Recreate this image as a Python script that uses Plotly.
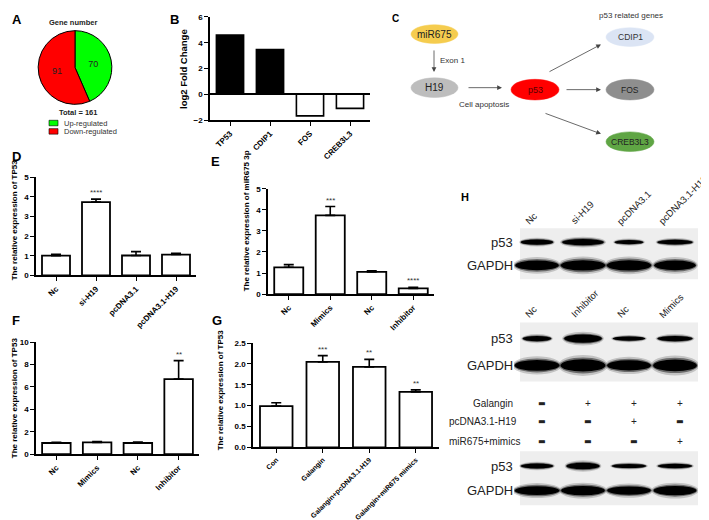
import plotly.graph_objects as go

W = 709
H = 520
FONT = "Liberation Sans"

# A: gene numbers
pie_labels = ["Up-regulated", "Down-regulated"]
pie_values = [70, 91]
pie_colors = ["#00ff00", "#ff0000"]

# B: log2 fold change of p53 related genes
fc_genes = ["TP53", "CDIP1", "FOS", "CREB3L3"]
fc_values = [4.6, 3.47, -1.67, -1.09]

# D
d_groups = ["Nc", "si-H19", "pcDNA3.1", "pcDNA3.1-H19"]
d_values = [1.0, 3.73, 1.01, 1.06]
d_errors = [0.07, 0.15, 0.2, 0.06]
d_stars = ["", "****", "", ""]

# E
e_groups = ["Nc", "Mimics", "Nc", "Inhibitor"]
e_values = [1.27, 3.74, 1.05, 0.27]
e_errors = [0.13, 0.42, 0.05, 0.05]
e_stars = ["", "***", "", "****"]

# F
f_groups = ["Nc", "Mimics", "Nc", "Inhibitor"]
f_values = [1.0, 1.05, 1.0, 6.7]
f_errors = [0.06, 0.07, 0.08, 1.65]
f_stars = ["", "", "", "**"]

# G
g_groups = ["Con", "Galangin", "Galangin+pcDNA3.1-H19", "Galangin+miR675 mimics"]
g_values = [0.99, 2.05, 1.93, 1.33]
g_errors = [0.08, 0.15, 0.18, 0.05]
g_stars = ["", "***", "**", "**"]

# H: western blots (band width as share of lane, thickness as share of row)
blot1_lanes = ["Nc", "si-H19", "pcDNA3.1", "pcDNA3.1-H19"]
blot1_p53_width = [0.70, 0.90, 0.62, 0.76]
blot1_p53_thick = [0.22, 0.27, 0.18, 0.21]
blot1_gapdh_width = [0.95, 0.97, 0.97, 0.9]
blot1_gapdh_thick = [0.42, 0.45, 0.45, 0.42]

blot2_lanes = ["Nc", "Inhibitor", "Nc", "Mimics"]
blot2_p53_width = [0.62, 0.82, 0.7, 0.76]
blot2_p53_thick = [0.2, 0.3, 0.16, 0.2]
blot2_gapdh_width = [0.97, 0.97, 0.95, 0.95]
blot2_gapdh_thick = [0.4, 0.46, 0.38, 0.44]

blot3_p53_width = [0.7, 0.72, 0.74, 0.74]
blot3_p53_thick = [0.2, 0.27, 0.17, 0.18]
blot3_gapdh_width = [0.97, 0.95, 0.95, 0.93]
blot3_gapdh_thick = [0.36, 0.38, 0.34, 0.38]

treat_rows = ["Galangin", "pcDNA3.1-H19", "miR675+mimics"]
treat_signs = [
    ["-", "+", "+", "+"],
    ["-", "-", "+", "-"],
    ["-", "-", "-", "+"],
]


def X(p):
    return p / W


def Y(p):
    return 1 - p / H


fig = go.Figure()
layout = {}


def note(text, x, y, size=8, bold=False, color="black",
         xanchor="center", yanchor="middle", angle=0):
    fig.add_annotation(
        text=text, x=X(x), y=Y(y), xref="paper", yref="paper",
        showarrow=False, textangle=angle,
        xanchor=xanchor, yanchor=yanchor,
        font=dict(family=FONT, size=size, color=color,
                  weight="bold" if bold else "normal")
    )


def arrow(x0, y0, x1, y1):
    fig.add_annotation(
        text="", x=X(x1), y=Y(y1), xref="paper", yref="paper",
        ax=x0 - x1, ay=y0 - y1, axref="pixel", ayref="pixel",
        showarrow=True, arrowhead=2, arrowsize=1.2,
        arrowwidth=0.8, arrowcolor="#444"
    )


def ellipse(cx, cy, w, h, color, text, size=9, tcolor="#222"):
    fig.add_shape(
        type="circle", xref="paper", yref="paper",
        x0=X(cx - w / 2), x1=X(cx + w / 2),
        y0=Y(cy + h / 2), y1=Y(cy - h / 2),
        fillcolor=color, line=dict(color=color, width=0.5)
    )
    note(text, cx, cy, size=size, color=tcolor)


tick_font = dict(family=FONT, size=8, color="black", weight="bold")


def bar_panel(n, groups, values, errors, stars, xdom, ydom, yrange, dtick):
    xs = list(range(len(groups)))
    fig.add_trace(
        go.Bar(
            x=xs, y=values, width=0.7,
            marker=dict(color="white", line=dict(color="black", width=1.8)),
            error_y=dict(
                type="data", symmetric=False, array=errors,
                arrayminus=[0] * len(errors),
                color="black", thickness=1.6, width=5
            ),
            xaxis=f"x{n}", yaxis=f"y{n}", showlegend=False,
            hoverinfo="skip"
        )
    )
    layout[f"xaxis{n}"] = dict(
        domain=[X(xdom[0]), X(xdom[1])], anchor=f"y{n}",
        range=[-0.5, len(groups) - 0.5],
        tickvals=xs, ticktext=groups, tickangle=-45,
        showline=True, linecolor="black", linewidth=1.6,
        ticks="outside", ticklen=4, tickwidth=1.4, tickcolor="black",
        showgrid=False, zeroline=False, tickfont=tick_font
    )
    layout[f"yaxis{n}"] = dict(
        domain=[Y(ydom[0]), Y(ydom[1])], anchor=f"x{n}",
        range=yrange, dtick=dtick,
        showline=True, linecolor="black", linewidth=1.6,
        ticks="outside", ticklen=4, tickwidth=1.4, tickcolor="black",
        showgrid=False, zeroline=False, tickfont=tick_font
    )
    for i, s in enumerate(stars):
        if s:
            fig.add_annotation(
                text=s, x=i, y=values[i] + errors[i],
                xref=f"x{n}", yref=f"y{n}", showarrow=False,
                yanchor="bottom", yshift=0,
                font=dict(family=FONT, size=8, color="#333")
            )


# ---------- A ----------
fig.add_trace(
    go.Pie(
        labels=pie_labels, values=pie_values,
        marker=dict(colors=pie_colors, line=dict(color="black", width=1)),
        direction="clockwise", sort=False, rotation=0,
        textinfo="value", textposition="inside",
        insidetextorientation="horizontal",
        textfont=dict(family=FONT, size=9, color="#222"),
        domain=dict(x=[X(29), X(105)], y=[Y(94), Y(19)]),
        showlegend=False, hoverinfo="skip"
    )
)
note("A", 9, 8, size=13, bold=True)
note("Gene number", 65, 11, size=7.5, bold=True, color="#222")
note("Total = 161", 70, 102, size=7.5, bold=True, color="#222")
for i, lab in enumerate(pie_labels):
    yy = 113 + i * 8.5
    fig.add_shape(type="rect", xref="paper", yref="paper",
                  x0=X(41), x1=X(50), y0=Y(yy + 2.8), y1=Y(yy - 2.8),
                  fillcolor=pie_colors[i], line=dict(color="black", width=0.6))
    note(lab, 54, yy, size=7.5, color="#333", xanchor="left")

# ---------- B ----------
fig.add_trace(
    go.Bar(
        x=fc_genes, y=fc_values, width=0.68,
        marker=dict(
            color=["black" if v > 0 else "white" for v in fc_values],
            line=dict(color="black", width=1.6)
        ),
        xaxis="x", yaxis="y", showlegend=False, hoverinfo="skip"
    )
)
layout["xaxis"] = dict(
    domain=[X(202), X(362)], anchor="y", tickangle=-45,
    showline=True, linecolor="black", linewidth=1.6,
    ticks="outside", ticklen=4, tickwidth=1.4, tickcolor="black",
    showgrid=False, tickfont=tick_font
)
layout["yaxis"] = dict(
    domain=[Y(110), Y(5)], anchor="x", range=[-2, 6], dtick=2,
    showline=True, linecolor="black", linewidth=1.6,
    ticks="outside", ticklen=4, tickwidth=1.4, tickcolor="black",
    showgrid=False, zeroline=True, zerolinecolor="black",
    zerolinewidth=1.6, tickfont=tick_font
)
note("B", 166, 8, size=13, bold=True)
note("log2 Fold Change", 176, 58, size=9.5, bold=True, angle=-90)

# ---------- C ----------
note("C", 387, 7, size=10, bold=True)
note("p53 related genes", 623, 4, size=8, color="#333")
ellipse(426.5, 22.5, 47, 19, "#f5cc4e", "miR675", size=10)
ellipse(426.5, 77, 47, 20, "#bdbdbd", "H19", size=10)
ellipse(527, 79, 48, 21, "#ff0000", "p53", size=9, tcolor="#5a0000")
ellipse(622, 25.5, 48, 19, "#dbe4f4", "CDIP1", size=8.5, tcolor="#333")
ellipse(622, 79, 48, 21, "#8e8e8e", "FOS", size=8.5, tcolor="#222")
ellipse(622, 132, 48, 20, "#5fa544", "CREB3L3", size=8.5, tcolor="#222")
arrow(426, 38, 426, 61)
arrow(459, 77, 494, 77)
arrow(540, 61, 593, 33)
arrow(557, 79, 593, 79)
arrow(536, 103, 593, 124)
note("Exon 1", 444, 49, size=8, color="#333")
note("Cell apoptosis", 476, 94, size=8, color="#333")

# ---------- D, E, F, G ----------
bar_panel(2, d_groups, d_values, d_errors, d_stars,
          (28, 188), (268, 168), [0, 5], 1)
note("D", 8, 147, size=13, bold=True)
note("The relative expression of TP53", 6, 212, size=8, bold=True, angle=-90)

bar_panel(3, e_groups, e_values, e_errors, e_stars,
          (260, 426), (287, 180), [0, 5], 1)
note("E", 207, 152, size=13, bold=True)
note("The relative expression of miR675 3p", 238, 212, size=8, bold=True,
     angle=-90)

bar_panel(4, f_groups, f_values, f_errors, f_stars,
          (28, 191), (450, 336), [0, 10], 2)
note("F", 8, 314, size=13, bold=True)
note("The relative expression of TP53", 6, 393, size=8, bold=True, angle=-90)

bar_panel(5, g_groups, g_values, g_errors, g_stars,
          (245, 431), (443, 337), [0, 2.5], 0.5)
layout["yaxis5"]["tickformat"] = ".1f"
layout["xaxis5"]["tickfont"] = dict(tick_font, size=7)
note("G", 209, 314, size=13, bold=True)
note("The relative expression of TP53", 212, 384, size=8, bold=True,
     angle=-90)

# ---------- H ----------
note("H", 457, 188, size=11, bold=True)


def blot(n, ydom, p53_w, p53_t, gapdh_w, gapdh_t):
    layout[f"xaxis{n}"] = dict(domain=[X(506), X(690)], anchor=f"y{n}",
                               range=[-0.5, 3.5], visible=False)
    layout[f"yaxis{n}"] = dict(domain=[Y(ydom[0]), Y(ydom[1])],
                               anchor=f"x{n}", range=[-0.6, 1.6],
                               visible=False)
    fig.add_shape(type="rect", xref="paper", yref="paper",
                  x0=X(512), x1=X(690), y0=Y(ydom[0]), y1=Y(ydom[1]),
                  fillcolor="#eeeeee", line=dict(width=0), layer="below")
    for row, widths, thicks in ((1, p53_w, p53_t), (0, gapdh_w, gapdh_t)):
        for i in range(4):
            w = widths[i]
            t = thicks[i]
            for grow, op in ((1.7, 0.18), (1.3, 0.45), (1.0, 1.0)):
                fig.add_shape(
                    type="circle", xref=f"x{n}", yref=f"y{n}",
                    x0=i - w / 2 * (1 + (grow - 1) * 0.15),
                    x1=i + w / 2 * (1 + (grow - 1) * 0.15),
                    y0=row - t / 2 * grow, y1=row + t / 2 * grow,
                    fillcolor="black", opacity=op, line=dict(width=0)
                )
    for row, lab in ((1, "p53"), (0, "GAPDH")):
        fig.add_annotation(
            text=lab, x=X(507), y=row, xref="paper", yref=f"y{n}",
            showarrow=False, xanchor="right", yanchor="middle",
            font=dict(family=FONT, size=13, color="#222")
        )


def lane_labels(n, lanes, ybottom):
    for i, lab in enumerate(lanes):
        fig.add_annotation(
            text=lab, x=i, y=Y(ybottom), xref=f"x{n}", yref="paper",
            showarrow=False, textangle=-45, xanchor="left",
            yanchor="bottom", xshift=-21 if i == 3 else -17,
            font=dict(family=FONT, size=9.5, color="#222")
        )


blot(6, (272, 220), blot1_p53_width, blot1_p53_thick,
     blot1_gapdh_width, blot1_gapdh_thick)
lane_labels(6, blot1_lanes, 221)

blot(7, (376, 316), blot2_p53_width, blot2_p53_thick,
     blot2_gapdh_width, blot2_gapdh_thick)
lane_labels(7, blot2_lanes, 316)

blot(8, (502, 447), blot3_p53_width, blot3_p53_thick,
     blot3_gapdh_width, blot3_gapdh_thick)

row_y = [398, 417, 437]
note(treat_rows[0], 507, row_y[0], size=10, color="#222", xanchor="right")
note(treat_rows[1], 439, row_y[1], size=10, color="#222", xanchor="left")
note(treat_rows[2], 439, row_y[2], size=10, color="#222", xanchor="left")
for r, signs in enumerate(treat_signs):
    for i, s in enumerate(signs):
        if s == "+":
            txt, fam, size = "+", FONT, 10
        else:
            txt, fam, size = "\u25ac", "DejaVu Sans", 8
        fig.add_annotation(
            text=txt, x=i + 0.1, y=Y(row_y[r]), xref="x8", yref="paper",
            showarrow=False, xanchor="center", yanchor="middle",
            font=dict(family=fam, size=size, color="#222")
        )

fig.update_layout(
    width=W, height=H, autosize=False,
    margin=dict(l=0, r=0, t=0, b=0),
    paper_bgcolor="white", plot_bgcolor="white",
    font=dict(family=FONT),
    bargap=0.3,
    **layout
)

fig.write_html("out.html")
